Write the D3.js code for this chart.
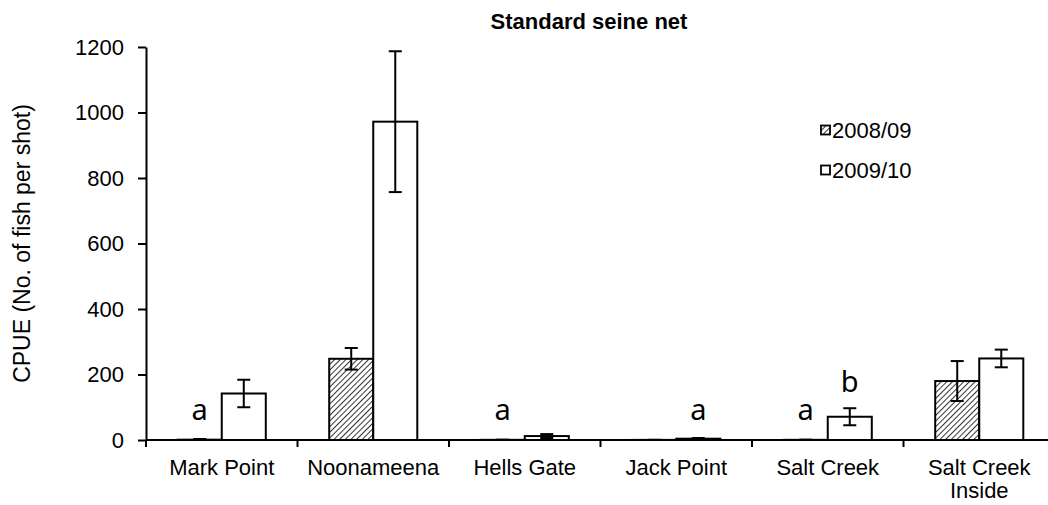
<!doctype html>
<html lang="en">
<head>
<meta charset="utf-8">
<style>
html, body {
    margin: 0;
    padding: 0;
    background: #fff;
    overflow: hidden;
}
svg text {
    font-family: "Liberation Sans", Arial, sans-serif;
    fill: #000;
}
.axis path, .axis line {
    stroke: #000;
    stroke-width: 2px;
}
.letter {
    font-family: "Noto Sans", "Open Sans", sans-serif;
}
</style>
</head>
<body>
<svg id="chart" width="1048" height="505"></svg>
<script src="https://cdn.jsdelivr.net/npm/d3@7/dist/d3.min.js"></script>
<script>
// values
const sites = ['Mark Point', 'Noonameena', 'Hells Gate', 'Jack Point', 'Salt Creek', 'Salt Creek Inside'];
const seasons = ['2008/09', '2009/10'];
const cpue0809 = [1, 248, 0.5, 0.3, 0.5, 180];
const cpue0910 = [142, 972, 12, 4, 71, 249];
const se0809 = [2, 33, 0.5, 0.3, 0.5, 61];
const se0910 = [42, 215, 6, 2, 26, 27];
const yTicks = [0, 200, 400, 600, 800, 1000, 1200];
// significance letters: site, season it sits above, height (data units)
const letters = [
    {site: 'Mark Point', season: '2008/09', text: 'a', v: 60},
    {site: 'Hells Gate', season: '2008/09', text: 'a', v: 60},
    {site: 'Jack Point', season: '2009/10', text: 'a', v: 60},
    {site: 'Salt Creek', season: '2008/09', text: 'a', v: 60},
    {site: 'Salt Creek', season: '2009/10', text: 'b', v: 146}
];

const W = 1048, H = 505;
const mLeft = 146, mTop = 47, base = 440;
const svg = d3.select('#chart');

const defs = svg.append('defs');
const pat = defs.append('pattern')
    .attr('id', 'hatch')
    .attr('patternUnits', 'userSpaceOnUse')
    .attr('width', 4).attr('height', 4)
    .attr('patternTransform', 'rotate(45)');
pat.append('rect').attr('width', 4).attr('height', 4).attr('fill', '#fff');
pat.append('line').attr('x1', 0).attr('y1', 0).attr('x2', 0).attr('y2', 4)
    .attr('stroke', '#000').attr('stroke-width', 1.6);

const x = d3.scaleBand().domain(sites).range([mLeft, mLeft + 6 * 151.5]).padding(0);
const xs = d3.scaleBand().domain(seasons).range([0, x.bandwidth()]).paddingInner(0).paddingOuter(0.72);
const y = d3.scaleLinear().domain([0, 1200]).range([base, mTop]);

const rows = sites.map((s, i) => ({
    site: s,
    vals: [
        {season: seasons[0], v: cpue0809[i], e: se0809[i]},
        {season: seasons[1], v: cpue0910[i], e: se0910[i]}
    ]
}));

// bars
const g = svg.append('g').selectAll('g').data(rows).enter().append('g')
    .attr('transform', d => `translate(${x(d.site)},0)`);
g.selectAll('rect').data(d => d.vals).enter().append('rect')
    .attr('x', d => xs(d.season))
    .attr('width', xs.bandwidth())
    .attr('y', d => y(d.v))
    .attr('height', d => base - y(d.v))
    .attr('fill', d => d.season === seasons[0] ? 'url(#hatch)' : '#fff')
    .attr('stroke', '#000')
    .attr('stroke-width', 2);

// error bars
const eb = g.selectAll('g.err').data(d => d.vals).enter().append('g').attr('class', 'err')
    .attr('transform', d => `translate(${xs(d.season) + xs.bandwidth() / 2},0)`)
    .attr('stroke', '#000').attr('stroke-width', 2);
eb.append('line').attr('x1', 0).attr('x2', 0)
    .attr('y1', d => y(d.v + d.e)).attr('y2', d => y(Math.max(0, d.v - d.e)));
eb.append('line').attr('x1', -6.5).attr('x2', 6.5)
    .attr('y1', d => y(d.v + d.e)).attr('y2', d => y(d.v + d.e));
eb.append('line').attr('x1', -6.5).attr('x2', 6.5)
    .attr('y1', d => y(Math.max(0, d.v - d.e))).attr('y2', d => y(Math.max(0, d.v - d.e)));

// y axis
const yAxis = svg.append('g').attr('class', 'axis')
    .attr('transform', `translate(${mLeft},0)`)
    .call(d3.axisLeft(y).tickValues(yTicks).tickFormat(d3.format('d'))
        .tickSize(8).tickSizeOuter(0).tickPadding(14));
yAxis.selectAll('text').style('font-size', '22px');

// x axis: baseline + ticks at category boundaries
svg.append('line').attr('x1', mLeft).attr('x2', W).attr('y1', base).attr('y2', base)
    .attr('stroke', '#000').attr('stroke-width', 2);
svg.append('g').selectAll('line').data(sites).enter().append('line')
    .attr('x1', d => x(d)).attr('x2', d => x(d))
    .attr('y1', base).attr('y2', base + 7)
    .attr('stroke', '#000').attr('stroke-width', 2);

const xl = svg.append('g').selectAll('text').data(sites).enter().append('text')
    .attr('text-anchor', 'middle')
    .style('font-size', '22px')
    .attr('x', d => x(d) + x.bandwidth() / 2)
    .attr('y', 475);
xl.each(function (d) {
    const t = d3.select(this);
    if (d === 'Salt Creek Inside') {
        t.append('tspan').attr('x', x(d) + x.bandwidth() / 2).text('Salt Creek');
        t.append('tspan').attr('x', x(d) + x.bandwidth() / 2).attr('dy', 23).text('Inside');
    } else {
        t.text(d);
    }
});

// letters
svg.append('g').selectAll('text').data(letters).enter().append('text')
    .attr('class', 'letter')
    .attr('text-anchor', 'middle')
    .style('font-size', '29px')
    .attr('x', d => x(d.site) + xs(d.season) + xs.bandwidth() / 2)
    .attr('y', d => y(d.v))
    .text(d => d.text);

// title
svg.append('text').attr('x', 589).attr('y', 29).attr('text-anchor', 'middle')
    .style('font-size', '22px').style('font-weight', 'bold')
    .text('Standard seine net');

// y label
svg.append('text')
    .attr('transform', `translate(30,${(mTop + base) / 2}) rotate(-90)`)
    .attr('text-anchor', 'middle')
    .style('font-size', '23px')
    .text('CPUE (No. of fish per shot)');

// legend
const leg = svg.append('g').attr('transform', 'translate(821,0)');
const li = leg.selectAll('g').data(seasons).enter().append('g')
    .attr('transform', (d, i) => `translate(0,${130 + i * 40})`);
li.append('rect').attr('x', 0).attr('y', -4.5).attr('width', 9).attr('height', 9)
    .attr('fill', (d, i) => i === 0 ? 'url(#hatch)' : '#fff')
    .attr('stroke', '#000').attr('stroke-width', 1.8);
li.append('text').attr('x', 11).attr('y', 8).style('font-size', '22px').text(d => d);
</script>
</body>
</html>
